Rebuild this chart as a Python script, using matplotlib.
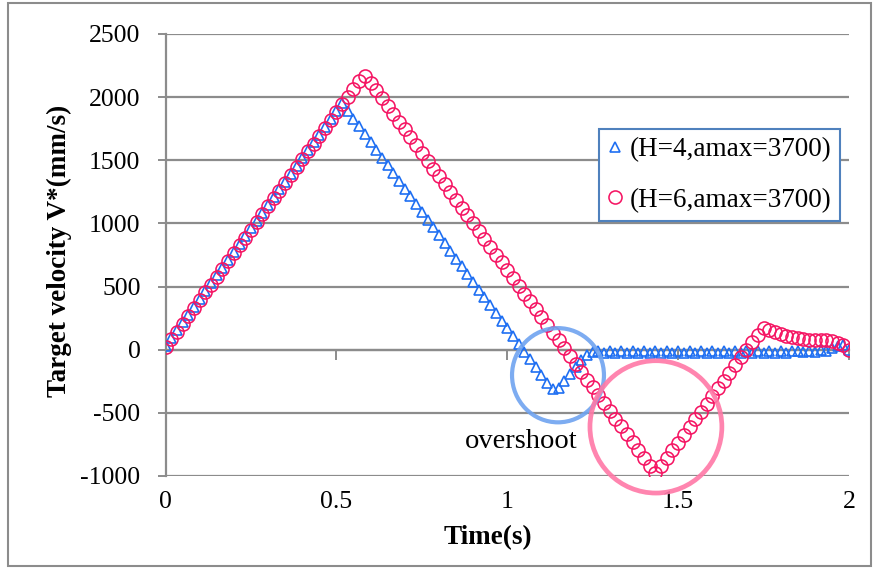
import numpy as np
import matplotlib
matplotlib.use("Agg")
import matplotlib.pyplot as plt
from matplotlib.patches import Ellipse, Rectangle

plt.rcParams['font.family'] = ['Liberation Serif', 'DejaVu Serif']

# ---- data (sampled every 1/60 s from 0 to 2 s) ----
time_s = np.linspace(0.0, 2.0, 121)

v_h4 = [30, 92, 154, 216, 278, 340, 402, 464, 526, 588,
        650, 712, 774, 836, 898, 960, 1022, 1084, 1146, 1208,
        1270, 1332, 1394, 1456, 1518, 1580, 1642, 1704, 1766, 1828,
        1890, 1952, 1890, 1829, 1768, 1706, 1645, 1583, 1522, 1460,
        1399, 1337, 1276, 1214, 1153, 1091, 1030, 968, 907, 845,
        784, 722, 661, 599, 538, 476, 415, 353, 292, 230,
        169, 107, 46, -16, -77, -139, -200, -262, -310, -305,
        -250, -190, -135, -85, -45, -22, -12, -25, -12, -25,
        -12, -25, -12, -25, -12, -25, -12, -25, -12, -25,
        -12, -25, -12, -25, -12, -25, -12, -25, -12, -25,
        -12, -25, -12, -25, -12, -25, -12, -25, -12, -25,
        -12, -8, -15, -8, -15, -5, -10, 15, 30, 40,
        0]

v_h6 = [20, 82, 144, 206, 268, 330, 392, 454, 516, 578,
        640, 702, 764, 826, 888, 950, 1012, 1074, 1136, 1198,
        1260, 1322, 1384, 1446, 1508, 1570, 1632, 1694, 1756, 1818,
        1880, 1942, 2004, 2066, 2128, 2170, 2115, 2053, 1991, 1929,
        1867, 1806, 1744, 1682, 1620, 1558, 1496, 1434, 1372, 1310,
        1249, 1187, 1125, 1063, 1001, 939, 877, 815, 753, 692,
        630, 568, 506, 444, 382, 320, 258, 196, 134, 73,
        11, -51, -113, -175, -237, -299, -361, -423, -484, -546,
        -608, -670, -732, -794, -856, -918, -980, -919, -857, -796,
        -735, -673, -612, -551, -490, -428, -367, -306, -245, -183,
        -122, -61, 0, 62, 115, 170, 155, 138, 124, 112,
        100, 90, 82, 76, 74, 77, 75, 68, 56, 40,
        0]

label_h4 = "(H=4,amax=3700)"
label_h6 = "(H=6,amax=3700)"
x_ticks = [0, 0.5, 1, 1.5, 2]
x_tick_labels = ["0", "0.5", "1", "1.5", "2"]
y_ticks = [-1000, -500, 0, 500, 1000, 1500, 2000, 2500]
y_tick_labels = ["-1000", "-500", "0", "500", "1000", "1500", "2000", "2500"]

W, H = 876, 569
fig = plt.figure(figsize=(W / 100, H / 100), dpi=100)
ax = fig.add_axes([165.5 / W, 1 - 476 / H, (849 - 165.5) / W, (476 - 34) / H])

grid_c = '#8c8c8c'
blue = '#1F6FF2'
red = '#F51563'

ax.set_xlim(0, 2)
ax.set_ylim(-1000, 2500)

ax.plot(time_s, v_h4, linestyle='none', marker='^', markersize=7.6,
        markerfacecolor='none', markeredgecolor=blue, markeredgewidth=1.2,
        label=label_h4, zorder=3)
ax.plot(time_s, v_h6, linestyle='none', marker='o', markersize=9.4,
        markerfacecolor='none', markeredgecolor=red, markeredgewidth=1.15,
        label=label_h6, zorder=4)

# grid & axes
ax.set_yticks(y_ticks)
ax.set_yticklabels(y_tick_labels)
ax.set_xticks(x_ticks)
ax.set_xticklabels(x_tick_labels)
ax.yaxis.grid(True, color=grid_c, linewidth=1.6)
ax.set_axisbelow(True)
for s in ['top', 'right', 'bottom']:
    ax.spines[s].set_visible(False)
ax.spines['left'].set_color(grid_c)
ax.spines['left'].set_linewidth(1.6)
ax.tick_params(axis='y', direction='out', length=6, width=1.4, color=grid_c,
               labelsize=18.5, pad=12)
ax.tick_params(axis='x', length=0, labelsize=18.5, pad=11)

# x axis line crossing at 0
ymin, ymax = ax.get_ylim()
sec = ax.secondary_xaxis((0 - ymin) / (ymax - ymin))
sec.set_xticks(x_ticks)
sec.tick_params(axis='x', direction='out', length=7, width=1.4, color=grid_c,
                labelbottom=False, labeltop=False)
for s in sec.spines.values():
    s.set_color(grid_c)
    s.set_linewidth(1.6)

# annotation circles
ax.add_patch(Ellipse((1.1485, -202), 0.269, 746, fill=False,
                     edgecolor='#6FA3F0', linewidth=3.0, alpha=0.9, zorder=5))
ax.add_patch(Ellipse((1.435, -611), 0.386, 1048, fill=False,
                     edgecolor='#FF78A6', linewidth=3.4, alpha=0.9, zorder=5,
                     clip_on=False))

# legend
leg = ax.legend(loc='upper left', bbox_to_anchor=(599 / W, 1 - 129 / H),
                bbox_transform=fig.transFigure, borderaxespad=0,
                fontsize=19.5, frameon=True, fancybox=False, framealpha=1,
                edgecolor='#4F81BD', handlelength=0.6, handletextpad=0.25,
                borderpad=0.3, labelspacing=0.95, markerscale=1.0)
leg.get_frame().set_linewidth(1.5)
leg.set_zorder(10)

# texts
fig.text(59 / W, 1 - 251 / H, "Target velocity V*(mm/s)", rotation=90,
         ha='center', va='center', fontsize=19.5, fontweight='bold')
fig.text(488 / W, 1 - 538 / H, "Time(s)", ha='center', va='center',
         fontsize=19.5, fontweight='bold')
fig.text(521 / W, 1 - 441 / H, "overshoot", ha='center', va='center',
         fontsize=20.5)

# outer frame
fig.patches.append(Rectangle((8 / W, 3 / H), (871 - 8) / W, (566 - 3) / H,
                             transform=fig.transFigure, fill=False,
                             edgecolor='#8c8c8c', linewidth=1.5))

fig.savefig('out.png', dpi=100)
